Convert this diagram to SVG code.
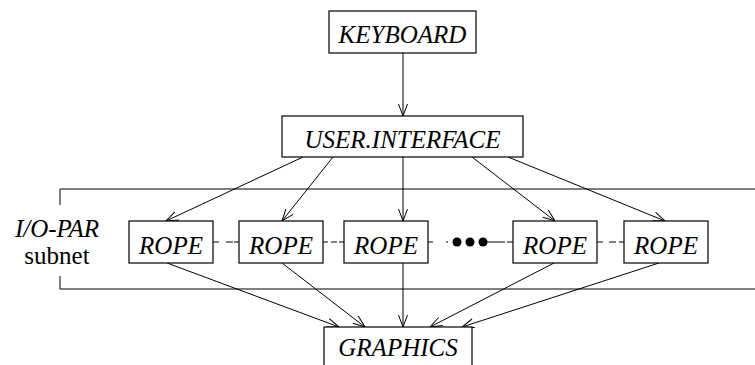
<svg xmlns="http://www.w3.org/2000/svg" width="755" height="365" viewBox="0 0 755 365">
<style>
.box{fill:#fff;stroke:#000;stroke-width:1.2}
.t{font-family:'Times New Roman','Liberation Serif',serif;font-size:25px;font-style:italic;text-anchor:middle;fill:#000}
.r{font-style:normal}
.c{stroke:#000;stroke-width:1;fill:none}
.a{marker-end:url(#arr)}
</style>
<defs>
<marker id="arr" markerUnits="userSpaceOnUse" markerWidth="16" markerHeight="12" viewBox="-13 -6 16 12" refX="0" refY="0" orient="auto">
<path d="M-12,-4.5 L0,0 L-12,4.5" fill="none" stroke="#000" stroke-width="1"/>
</marker>
</defs>
<g id="subnet">
<path class="c" d="M755 189 H60 V205 M60 276 V289 H755" stroke-width="1.2"/>
<text class="t" x="57" y="237">I/O-PAR</text>
<text class="t r" x="57" y="264">subnet</text>
</g>
<g id="connectors">
<line class="c a" x1="403" y1="53" x2="403" y2="116"/>
<line class="c a" x1="303" y1="157" x2="166" y2="221"/>
<line class="c a" x1="333" y1="157" x2="282" y2="221"/>
<line class="c a" x1="403" y1="157" x2="403" y2="221"/>
<line class="c a" x1="472" y1="157" x2="555" y2="221"/>
<line class="c a" x1="508" y1="157" x2="665" y2="221"/>
<line class="c a" x1="167" y1="263" x2="339" y2="327"/>
<line class="c a" x1="282" y1="263" x2="365" y2="327"/>
<line class="c a" x1="403" y1="263" x2="403" y2="327"/>
<line class="c a" x1="554" y1="263" x2="430" y2="327"/>
<line class="c a" x1="659" y1="263" x2="462" y2="327"/>
<path class="c" d="M213 242 h6 M226 242 h7 M234 242 h5 M323 242 h5 M331 242 h6 M339 242 h5 M428 242 h5 M446 242 h2 M487 242 h18 M507 242 h6 M597 242 h6 M609 242 h7 M619 242 h5"/>
<circle cx="457" cy="242" r="4.5" fill="#000"/>
<circle cx="470" cy="242" r="4.5" fill="#000"/>
<circle cx="483" cy="242" r="4.5" fill="#000"/>
</g>
<g id="keyboard">
<rect class="box" x="329" y="11" width="147" height="42"/>
<text class="t" x="402.5" y="43">KEYBOARD</text>
</g>
<g id="user-interface">
<rect class="box" x="282" y="116" width="241" height="41"/>
<text class="t" x="402.5" y="148">USER.INTERFACE</text>
</g>
<g id="rope1">
<rect class="box" x="129" y="221" width="84" height="42"/>
<text class="t" x="171" y="254">ROPE</text>
</g>
<g id="rope2">
<rect class="box" x="239" y="221" width="84" height="42"/>
<text class="t" x="281" y="254">ROPE</text>
</g>
<g id="rope3">
<rect class="box" x="344" y="221" width="84" height="42"/>
<text class="t" x="386" y="254">ROPE</text>
</g>
<g id="rope4">
<rect class="box" x="513" y="221" width="84" height="42"/>
<text class="t" x="555" y="254">ROPE</text>
</g>
<g id="rope5">
<rect class="box" x="624" y="221" width="84" height="42"/>
<text class="t" x="666" y="254">ROPE</text>
</g>
<g id="graphics">
<rect class="box" x="324" y="327" width="148" height="60"/>
<text class="t" x="398" y="356">GRAPHICS</text>
</g>
</svg>
